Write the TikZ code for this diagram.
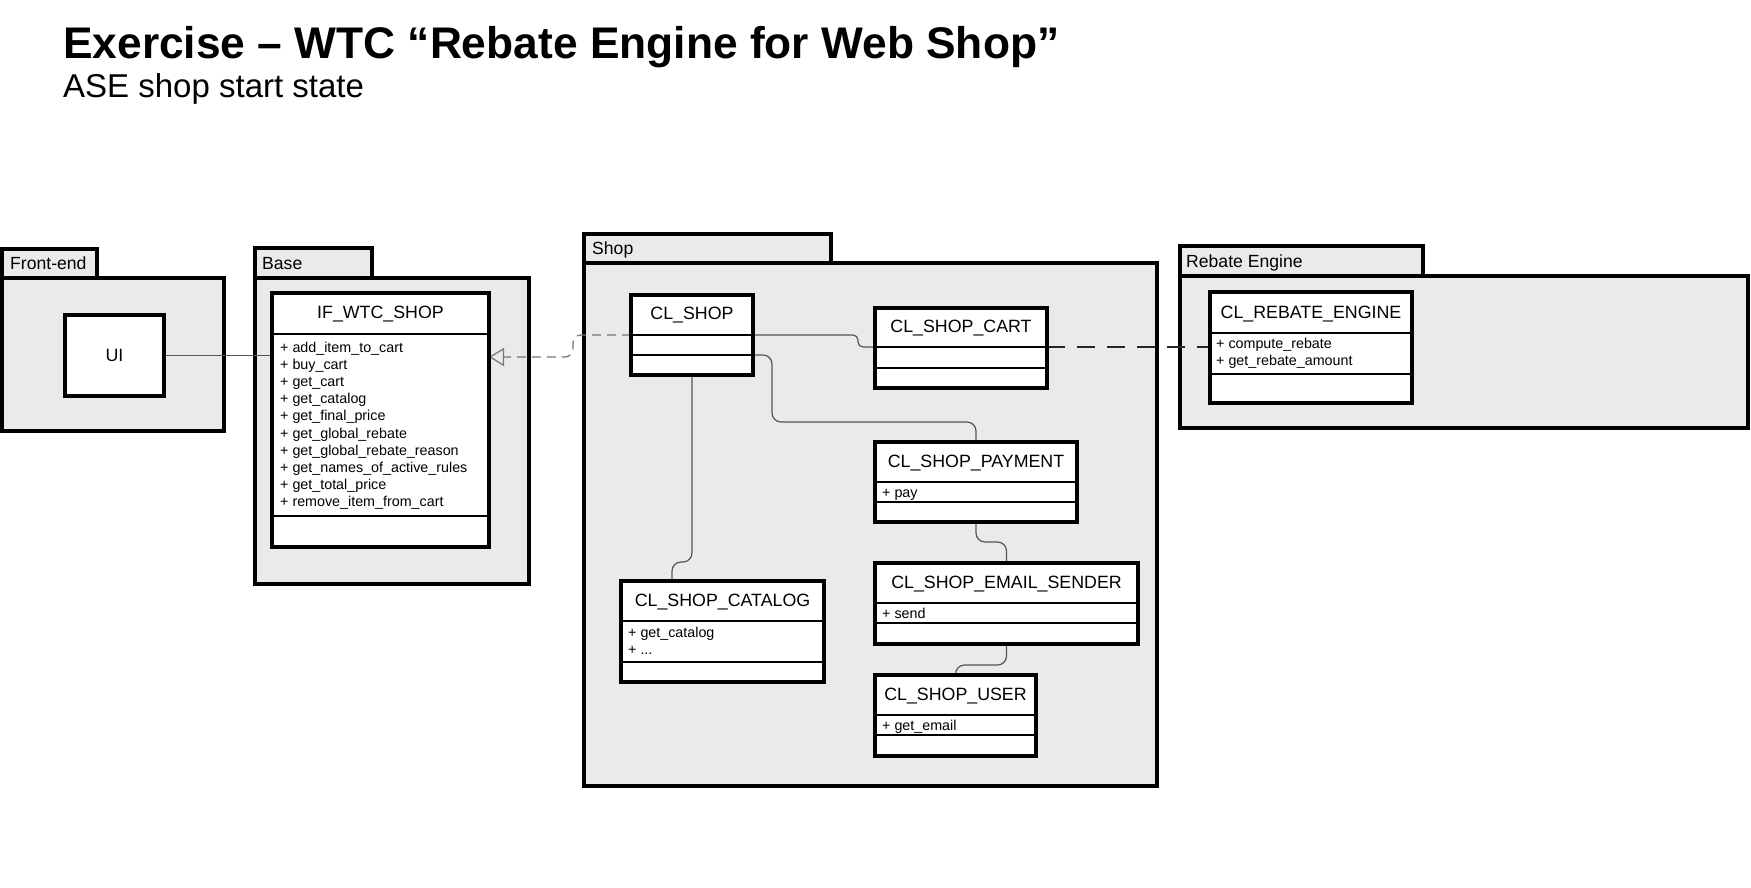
\documentclass[tikz,border=0pt]{standalone}
\usepackage{fontspec}
\setmainfont{Liberation Sans}
\usetikzlibrary{arrows.meta,fit}
\definecolor{pkgfill}{RGB}{234,234,234}
\definecolor{conncol}{RGB}{85,85,85}
\definecolor{realcol}{RGB}{115,115,115}
\pgfdeclarelayer{pkglayer}
\pgfdeclarelayer{connlayer}
\pgfsetlayers{pkglayer,connlayer,main}
\begin{document}
\begin{tikzpicture}[x=1pt,y=-1pt,
  pkg/.style={draw=black, fill=pkgfill, line width=3.5pt, inner sep=0pt, outer sep=0pt},
  cls/.style={draw=black, fill=white, line width=3.3pt, inner sep=0pt, outer sep=0pt},
  divider/.style={line width=1.1pt, draw=black},
  ctitle/.style={inner sep=0pt, font=\fontsize{17.8}{20}\selectfont, text height=12.8pt, text depth=0pt},
  attr/.style={inner sep=0pt, anchor=west, font=\fontsize{14.3}{17}\selectfont, text height=10.2pt, text depth=0pt},
  plabel/.style={inner sep=0pt, anchor=west, font=\fontsize{17.6}{20}\selectfont, text height=12.6pt, text depth=0pt},
  conn/.style={draw=conncol, line width=1.2pt, rounded corners=9pt},
  realize/.style={draw=realcol, line width=1.2pt, dash pattern=on 9pt off 6pt, rounded corners=8pt,
     -{Triangle[open, length=15pt, width=18pt, line width=1.2pt]}},
  depend/.style={draw=black!85, line width=1.2pt, dash pattern=on 18pt off 12pt}
]
\useasboundingbox (0,0) rectangle (1751,888);

% titles
\node[anchor=base west, inner sep=0pt, font=\fontsize{44.3}{50}\selectfont\bfseries] (title) at (63,59)
  {Exercise – WTC “Rebate Engine for Web Shop”};
\node[anchor=base west, inner sep=0pt, font=\fontsize{33}{38}\selectfont] (subtitle) at (63,98)
  {ASE shop start state};

% packages
\begin{pgfonlayer}{pkglayer}
\node[pkg, fit={(2,249) (97,278)}] (fetab) {};
\node[pkg, fit={(2,278) (224,431)}] (febody) {};
\node[plabel] (felbl) at (10,263.5) {Front-end};

\node[pkg, fit={(255,248) (372,278)}] (basetab) {};
\node[pkg, fit={(255,278) (529,584)}] (basebody) {};
\node[plabel] (baselbl) at (262,263) {Base};

\node[pkg, fit={(584,234) (831,263)}] (shoptab) {};
\node[pkg, fit={(584,263) (1157,786)}] (shopbody) {};
\node[plabel] (shoplbl) at (592,248.5) {Shop};

\node[pkg, fit={(1180,246) (1423,276)}] (rebtab) {};
\node[pkg, fit={(1180,276) (1748,428)}] (rebbody) {};
\node[plabel] (reblbl) at (1186,261) {Rebate Engine};
\end{pgfonlayer}

% UI
\node[cls, fit={(65,315) (164,396)}] (ui) {};
\node[ctitle] (ui-t) at (ui.center) {UI};

% IF_WTC_SHOP
\node[cls, fit={(272,293) (489,547)}] (ifs) {};
\draw[divider] (ifs.west |- 0,334) -- (ifs.east |- 0,334);
\draw[divider] (ifs.west |- 0,516) -- (ifs.east |- 0,516);
\node[ctitle] (ifs-t) at (380.5,312.5) {IF\_WTC\_SHOP};
\foreach \a [count=\i] in {add\_item\_to\_cart, buy\_cart, get\_cart, get\_catalog, get\_final\_price,
  get\_global\_rebate, get\_global\_rebate\_reason, get\_names\_of\_active\_rules, get\_total\_price,
  remove\_item\_from\_cart}
  \node[attr] (ifs-a\i) at (280,{347+17.2*(\i-1)}) {+ \a};

% CL_SHOP
\node[cls, fit={(631,295) (753,375)}] (clshop) {};
\draw[divider] (clshop.west |- 0,335) -- (clshop.east |- 0,335);
\draw[divider] (clshop.west |- 0,355) -- (clshop.east |- 0,355);
\node[ctitle] (clshop-t) at (692,313.5) {CL\_SHOP};

% CL_SHOP_CART
\node[cls, fit={(875,308) (1047,388)}] (clcart) {};
\draw[divider] (clcart.west |- 0,347) -- (clcart.east |- 0,347);
\draw[divider] (clcart.west |- 0,368) -- (clcart.east |- 0,368);
\node[ctitle] (clcart-t) at (961,326.5) {CL\_SHOP\_CART};

% CL_SHOP_PAYMENT
\node[cls, fit={(875,442) (1077,522)}] (clpay) {};
\draw[divider] (clpay.west |- 0,482) -- (clpay.east |- 0,482);
\draw[divider] (clpay.west |- 0,502) -- (clpay.east |- 0,502);
\node[ctitle] (clpay-t) at (976,461) {CL\_SHOP\_PAYMENT};
\node[attr] (clpay-a1) at (882,492) {+ pay};

% CL_SHOP_CATALOG
\node[cls, fit={(621,581) (824,682)}] (clcat) {};
\draw[divider] (clcat.west |- 0,621) -- (clcat.east |- 0,621);
\draw[divider] (clcat.west |- 0,662) -- (clcat.east |- 0,662);
\node[ctitle] (clcat-t) at (722.5,600) {CL\_SHOP\_CATALOG};
\node[attr] (clcat-a1) at (628,632) {+ get\_catalog};
\node[attr] (clcat-a2) at (628,649) {+ ...};

% CL_SHOP_EMAIL_SENDER
\node[cls, fit={(875,563) (1138,644)}] (clemail) {};
\draw[divider] (clemail.west |- 0,603) -- (clemail.east |- 0,603);
\draw[divider] (clemail.west |- 0,623) -- (clemail.east |- 0,623);
\node[ctitle] (clemail-t) at (1006.5,582) {CL\_SHOP\_EMAIL\_SENDER};
\node[attr] (clemail-a1) at (882,613) {+ send};

% CL_SHOP_USER
\node[cls, fit={(875,675) (1036,756)}] (cluser) {};
\draw[divider] (cluser.west |- 0,715) -- (cluser.east |- 0,715);
\draw[divider] (cluser.west |- 0,735) -- (cluser.east |- 0,735);
\node[ctitle] (cluser-t) at (955.5,694) {CL\_SHOP\_USER};
\node[attr] (cluser-a1) at (882,725) {+ get\_email};

% CL_REBATE_ENGINE
\node[cls, fit={(1210,292) (1412,403)}] (clreb) {};
\draw[divider] (clreb.west |- 0,333) -- (clreb.east |- 0,333);
\draw[divider] (clreb.west |- 0,374) -- (clreb.east |- 0,374);
\node[ctitle] (clreb-t) at (1311,312) {CL\_REBATE\_ENGINE};
\node[attr] (clreb-a1) at (1216,343) {+ compute\_rebate};
\node[attr] (clreb-a2) at (1216,360) {+ get\_rebate\_amount};

% connectors
\begin{pgfonlayer}{connlayer}
\draw[conn] (ui.east) -- (ui.east -| ifs.west);
\draw[realize] (clshop.west |- 0,335) -- (573,335) |- (ifs.east |- 0,357);
\draw[conn, rounded corners=5pt] (clshop.east |- 0,335) -| (858,347) -- (clcart.west |- 0,347);
\draw[conn] (clshop.east |- 0,355) -| (772,422) -| (clpay.north);
\draw[conn] (clshop.south) -- (692,562) -| (clcat.north -| 672,0);
\draw[conn] (clpay.south) -- (976,542) -| (clemail.north);
\draw[conn] (clemail.south) -- (1006.5,665) -| (cluser.north);
\draw[depend] (clcart.east |- 0,347) -- (clreb.west |- 0,347);
\end{pgfonlayer}
\end{tikzpicture}
\end{document}
